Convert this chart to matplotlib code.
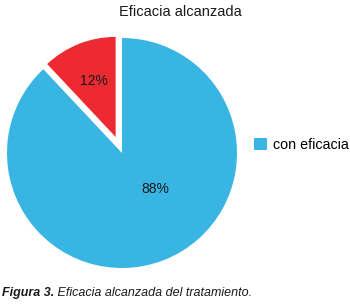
import matplotlib
matplotlib.use("Agg")
import matplotlib.pyplot as plt

# ── Data ──────────────────────────────────────────────────────────────────────
labels = ["sin eficacia", "con eficacia"]
values = [12, 88]
colors = ["#ED2A32", "#38B5E2"]
title = "Eficacia alcanzada"
caption_bold = "Figura 3."
caption_rest = " Eficacia alcanzada del tratamiento."

plt.rcParams["font.family"] = ["Liberation Sans", "DejaVu Sans"]

W, H = 350, 304
fig = plt.figure(figsize=(W / 100, H / 100), dpi=100)

# square axes, pie centre at (122, 153) px from top-left, radius 115 px
side = 253
cx, cy = 122, H - 153
ax = fig.add_axes([(cx - side / 2) / W, (cy - side / 2) / H, side / W, side / H])
ax.set_xlim(-1.1, 1.1)
ax.set_ylim(-1.1, 1.1)
ax.set_aspect("equal")
ax.axis("off")

wedges, texts, autotexts = ax.pie(
    values, colors=colors, startangle=90, counterclock=True,
    explode=[0.15, 0], radius=1, autopct="%d%%", pctdistance=0.52,
    textprops=dict(fontsize=10, color="#1a1a1a"),
    wedgeprops=dict(linewidth=0),
)
# red slice is drawn smaller, as in the original
wedges[0].set_radius(0.87)
autotexts[1].set_position((0.29, -0.31))

ax.set_xlim(-1.1, 1.1)
ax.set_ylim(-1.1, 1.1)

fig.text(180 / W, 1 - 12 / H, title, ha="center", va="center",
         fontsize=10.5, color="#1a1a1a")

fig.legend([wedges[1]], [labels[1]], loc="center left",
           bbox_to_anchor=(254 / W, 1 - 145 / H), frameon=False,
           fontsize=10.3, handlelength=0.9, handleheight=0.9,
           handletextpad=0.4, borderpad=0, borderaxespad=0)

# caption: bold italic lead-in followed by italic text
t1 = fig.text(2 / W, 1 - 293 / H, caption_bold, ha="left", va="center",
              fontsize=9, style="italic", weight="bold", color="#1a1a1a")
renderer = fig.canvas.get_renderer()
bb = t1.get_window_extent(renderer)
fig.text(bb.x1 / W, 1 - 293 / H, caption_rest, ha="left", va="center",
         fontsize=9, style="italic", color="#1a1a1a")

fig.savefig("out.png", dpi=100)
